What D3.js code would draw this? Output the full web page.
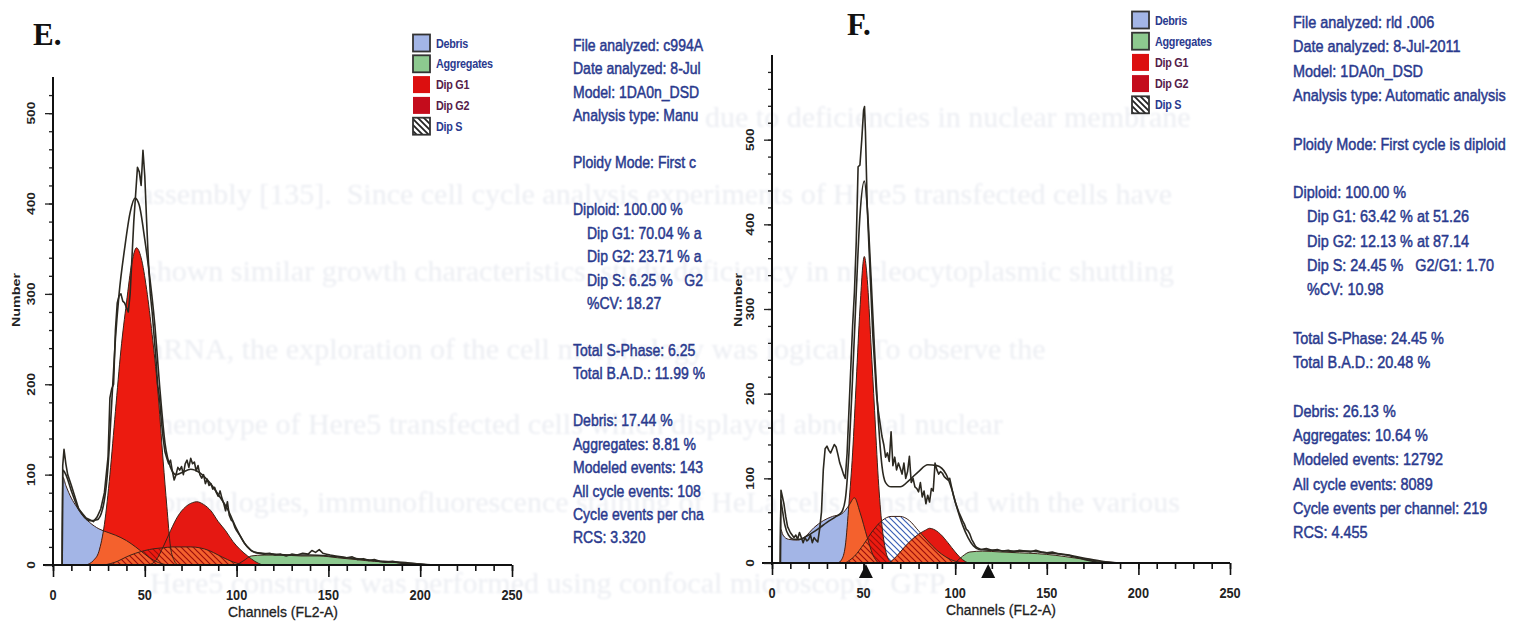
<!DOCTYPE html>
<html>
<head>
<meta charset="utf-8">
<script src="https://cdn.jsdelivr.net/npm/d3@7"></script>
<style>
  body { margin: 0; background: #fff; }
  svg { display: block; }
  text { white-space: pre; }
</style>
</head>
<body>
<svg id="chart" width="1519" height="621"></svg>
<script>
// ---------- data: [channel, count] ----------
const eDebris = [[5,0],[5.4,97],[7,88],[10,74],[13,64],[16,55],[20,47],[25,40],[30,36],[34,33],[40,27],[45,20],[50,12],[55,5],[60,1],[63,0]];
const eG1 = [[18,0],[22,5],[25,15],[28,45],[31,100],[34,170],[37,238],[40,290],[43,335],[45.5,351],[48,340],[51,305],[54,255],[57,195],[60,115],[62,65],[64,20],[66,5],[68,0]];
const eG2 = [[52,0],[56,5],[60,20],[64,38],[68,54],[72,64],[76,69],[78.3,70],[82,67],[86,60],[90,48],[94,38],[98,26],[102,17],[106,10],[110,4],[114,0]];
const eS = [[28,0],[35,4],[40,9],[45,13],[50,16],[55,18],[60,19],[65,20],[70,20],[75,20],[80,19],[85,16],[90,11],[95,6],[100,2],[105,0]];
const eAgg = [[100,0],[104,5],[108,10],[115,11],[125,11],[135,10],[145,10],[155,8],[165,6],[175,4],[185,3],[195,1],[205,0]];
const eModel = [[5,0],[5.3,105],[7,100],[10,82],[13,66],[16,56],[20,49],[24,50],[27,62],[30,110],[32,180],[34,250],[36,300],[39,350],[42,390],[44.7,406],[47,398],[50,360],[52,330],[55.5,265],[58,200],[61,135],[64,108],[67,100],[70,102],[75,106],[80,102],[85,92],[90,78],[95,62],[100,40],[105,22],[110,14],[120,12],[130,11],[140,11],[150,10],[160,8],[170,6],[180,4],[190,3],[200,1],[210,0],[250,0]];
const eRaw = [[4,0],[5,0],[5.3,110],[6,128],[7,112],[8,100],[10,88],[12,75],[14,62],[16,57],[18,52],[20,50],[22,48],[24,53],[26,62],[28,80],[30,120],[31,185],[32,195],[33,200],[34,260],[35,290],[36,298],[37,300],[38,292],[39,290],[40,285],[41,280],[42,300],[43,340],[44,380],[45,410],[46,440],[47,435],[48,420],[49,459],[50,430],[51,380],[52,335],[53,300],[54,280],[55,255],[56,230],[57,200],[58,185],[59,160],[60,140],[61,125],[62,118],[63,112],[64,116],[65,104],[66,94],[67,100],[68,108],[69,105],[70,109],[71,100],[72,112],[73,116],[74,108],[75,118],[76,112],[77,114],[78,104],[79,110],[80,100],[81,96],[82,100],[83,90],[84,95],[85,88],[86,90],[87,84],[88,86],[89,80],[90,76],[91,82],[92,74],[93,68],[94,60],[95,70],[96,55],[97,50],[98,48],[99,42],[100,38],[102,32],[104,25],[106,20],[108,16],[110,14],[112,13],[115,12],[118,13],[121,11],[124,12],[127,10],[130,12],[133,11],[136,13],[139,12],[141,16],[143,14],[145,17],[147,13],[149,12],[151,11],[154,10],[157,9],[160,8],[163,9],[166,6],[169,7],[172,5],[175,6],[178,4],[181,3],[185,4],[190,2],[195,2],[200,1],[205,0],[250,0]];

const fDebris = [[4.5,0],[4.7,40],[6,33],[9,28],[14,27],[18,31],[23,42],[28,50],[33,55],[38,58],[42,68],[45,77],[48,60],[52,30],[55,10],[58,0]];
const fG1 = [[36,0],[38,4],[40,20],[42,70],[44,130],[46,215],[48,300],[50.4,362],[52,335],[54,260],[56,180],[58,100],[60,45],[62,15],[64,3],[66,0]];
const fG2 = [[64,0],[68,8],[72,18],[76,27],[80,34],[84,39],[86,41],[88,40],[92,34],[96,24],[100,13],[104,4],[107,0]];
const fS = [[40,0],[45,8],[50,22],[55,38],[60,50],[65,55],[70,55],[75,50],[80,38],[85,26],[90,15],[95,7],[100,2],[105,0]];
const fAgg = [[100,0],[104,8],[108,13],[115,14],[125,13],[135,12],[145,11],[155,9],[165,6],[175,3],[185,1],[190,0]];
const fModel = [[4.5,0],[4.7,75],[5.5,65],[7,45],[9,33],[12,28],[15,28],[20,33],[25,40],[30,48],[35,55],[38,60],[40,75],[42,130],[44,220],[46,320],[48,410],[50.4,451],[52,420],[54,340],[56,250],[58,170],[60,115],[62,95],[65,90],[70,90],[75,98],[80,108],[85,116],[90,115],[95,105],[98,88],[101,65],[104,45],[107,30],[110,20],[113,16],[120,15],[130,14],[140,14],[150,12],[160,10],[170,6],[180,2],[190,0],[250,0]];
const fRaw = [[4,0],[4.6,0],[4.9,86],[5.5,80],[6.5,70],[7.5,55],[8.5,43],[10,36],[11,33],[12,30],[13,33],[14,28],[15,36],[16,30],[17,24],[18,30],[19,26],[20,28],[21,33],[22,24],[23,30],[24,27],[25,25],[26,40],[27,60],[28,110],[29,135],[30,138],[31,133],[32,130],[33,135],[34,140],[35,137],[36,128],[37,118],[38,112],[39,105],[40,100],[41,130],[42,180],[43,230],[44,280],[45,320],[46,380],[47,468],[48,470],[49,500],[50,535],[50.5,539],[51,510],[52,420],[53,370],[54,320],[55,270],[56,235],[57,200],[58,180],[59,165],[60,150],[61,140],[62,125],[63,130],[64,120],[65,155],[66,115],[67,125],[68,110],[69,118],[70,112],[71,105],[72,118],[73,100],[74,108],[75,126],[76,95],[77,100],[78,90],[79,88],[80,84],[81,95],[82,78],[83,85],[84,70],[85,80],[86,72],[87,88],[88,85],[89,118],[90,110],[91,105],[92,108],[93,106],[94,102],[95,100],[96,98],[97,100],[98,90],[99,80],[100,72],[101,66],[102,60],[103,55],[104,50],[105,46],[106,40],[107,38],[108,34],[109,28],[110,24],[111,20],[112,18],[114,16],[117,17],[120,15],[123,16],[126,14],[129,15],[132,13],[135,15],[138,14],[141,13],[144,15],[147,13],[150,12],[153,13],[156,11],[159,10],[162,9],[165,7],[168,6],[171,4],[175,2],[180,0],[250,0]];
const fMarkers = [51.26, 118];

const legendItems = ["Debris", "Aggregates", "Dip G1", "Dip G2", "Dip S"];
const xTickLabels = [0, 50, 100, 150, 200, 250];
const yTickLabels = [0, 100, 200, 300, 400, 500];

const eStats = ["File analyzed: c994A", "Date analyzed: 8-Jul", "Model: 1DA0n_DSD", "Analysis type: Manu", "",
  "Ploidy Mode: First c", "", "Diploid: 100.00 %", "  Dip G1: 70.04 % a", "  Dip G2: 23.71 % a",
  "  Dip S: 6.25 %   G2", "  %CV: 18.27", "", "Total S-Phase: 6.25", "Total B.A.D.: 11.99 %", "",
  "Debris: 17.44 %", "Aggregates: 8.81 %", "Modeled events: 143", "All cycle events: 108",
  "Cycle events per cha", "RCS: 3.320"];
const fStats = ["File analyzed: rld .006", "Date analyzed: 8-Jul-2011", "Model: 1DA0n_DSD", "Analysis type: Automatic analysis", "",
  "Ploidy Mode: First cycle is diploid", "", "Diploid: 100.00 %", "  Dip G1: 63.42 % at 51.26", "  Dip G2: 12.13 % at 87.14",
  "  Dip S: 24.45 %   G2/G1: 1.70", "  %CV: 10.98", "", "Total S-Phase: 24.45 %", "Total B.A.D.: 20.48 %", "",
  "Debris: 26.13 %", "Aggregates: 10.64 %", "Modeled events: 12792", "All cycle events: 8089",
  "Cycle events per channel: 219", "RCS: 4.455"];

// faint text showing through from the back of the page
const ghostLines = [
  [705, 127, "due to deficiencies in nuclear membrane"],
  [140, 204, "assembly [135].  Since cell cycle analysis experiments of Here5 transfected cells have"],
  [145, 281, "shown similar growth characteristics, study deficiency in nucleocytoplasmic shuttling"],
  [140, 359, "mRNA, the exploration of the cell morphology was logical.  To observe the"],
  [143, 434, "phenotype of Here5 transfected cells which displayed abnormal nuclear"],
  [137, 512, "morphologies, immunofluorescence staining of HeLa cells transfected with the various"],
  [150, 593, "Here5 constructs was performed using confocal microscopy.  GFP"]
];

const COL = {
  debris: "#a3b5e6", agg: "#8dc98f", red: "#ec1b10", g2: "#e51812",
  orange: "#f4612d", navy: "#2a3a8e", line: "#2b2820", edge: "#3c2218"
};

const svg = d3.select("#chart");
const defs = svg.append("defs");

function makeHatch(id, color, bg, w) {
  const p = defs.append("pattern").attr("id", id)
    .attr("patternUnits", "userSpaceOnUse").attr("width", 6).attr("height", 6);
  if (bg) p.append("rect").attr("width", 6).attr("height", 6).attr("fill", bg);
  p.append("path").attr("d", "M-3,3L3,9M0,0L6,6M3,-3L9,3")
    .attr("stroke", color).attr("stroke-width", w);
}
makeHatch("hatch-blue", "#3b5fb5", null, 1.2);
makeHatch("hatch-red", "#9c0c0a", null, 1.2);
makeHatch("hatch-legend", "#222", "#fff", 1.8);
defs.append("filter").attr("id", "soft")
  .append("feGaussianBlur").attr("stdDeviation", 0.9);

// ghost text
svg.append("g").attr("filter", "url(#soft)")
  .selectAll("text").data(ghostLines).join("text")
  .attr("x", d => d[0]).attr("y", d => d[1])
  .attr("font-family", "Liberation Serif, serif").attr("font-size", 30)
  .attr("fill", "#eceef3")
  .text(d => d[2]);

function histogram(cfg) {
  const g = svg.append("g").attr("class", "hist-" + cfg.id);
  const x = d3.scaleLinear().domain([0, 250]).range([cfg.left, cfg.right]);
  const y = d3.scaleLinear().domain([0, cfg.yMax]).range([cfg.base, cfg.top]);

  const area = d3.area().x(d => x(d[0])).y0(y(0)).y1(d => y(d[1])).curve(d3.curveMonotoneX);
  const smooth = d3.line().x(d => x(d[0])).y(d => y(d[1])).curve(d3.curveMonotoneX);
  const jagged = d3.line().x(d => x(d[0])).y(d => y(d[1]));

  // clip shapes for the red peaks
  defs.append("clipPath").attr("id", cfg.id + "-g1").append("path").attr("d", area(cfg.g1));
  defs.append("clipPath").attr("id", cfg.id + "-g2").append("path").attr("d", area(cfg.g2));
  const both = defs.append("clipPath").attr("id", cfg.id + "-red");
  both.append("path").attr("d", area(cfg.g1));
  both.append("path").attr("d", area(cfg.g2));

  g.append("path").attr("d", area(cfg.debris)).attr("fill", COL.debris);
  g.append("path").attr("d", area(cfg.agg)).attr("fill", COL.agg);
  g.append("path").attr("d", area(cfg.s)).attr("fill", "url(#hatch-blue)");
  g.append("path").attr("d", area(cfg.g1)).attr("fill", COL.red);
  g.append("path").attr("d", area(cfg.g2)).attr("fill", COL.g2);

  // overlaps inside the red peaks
  g.append("path").attr("d", area(cfg.debris)).attr("fill", COL.orange)
    .attr("clip-path", `url(#${cfg.id}-g1)`);
  g.append("path").attr("d", area(cfg.s)).attr("fill", COL.orange)
    .attr("clip-path", `url(#${cfg.id}-g2)`);
  g.append("path").attr("d", area(cfg.s)).attr("fill", "url(#hatch-red)")
    .attr("clip-path", `url(#${cfg.id}-red)`);

  // component outlines
  [cfg.debris, cfg.agg, cfg.s, cfg.g1, cfg.g2].forEach(comp => {
    g.append("path").attr("d", smooth(comp)).attr("fill", "none")
      .attr("stroke", COL.edge).attr("stroke-width", 1);
  });

  // model fit and raw histogram
  g.append("path").attr("d", smooth(cfg.model)).attr("fill", "none")
    .attr("stroke", COL.line).attr("stroke-width", 1.6);
  g.append("path").attr("d", jagged(cfg.raw)).attr("fill", "none")
    .attr("stroke", COL.line).attr("stroke-width", 1.6).attr("stroke-linejoin", "round");

  // x axis
  const xAx = g.append("g").attr("transform", `translate(0,${cfg.base})`);
  xAx.append("g").call(d3.axisBottom(x).tickValues(d3.range(0, 251, 10)).tickSize(6).tickFormat(""));
  xAx.append("g").call(d3.axisBottom(x).tickValues(xTickLabels).tickSize(12).tickFormat(""));
  xAx.selectAll(".domain").remove();
  xAx.selectAll(".tick line").attr("stroke", "#111").attr("stroke-width", 1.6);
  xAx.append("line").attr("x1", x(0) - 10).attr("x2", x(250))
    .attr("stroke", "#111").attr("stroke-width", 2.2);
  xAx.selectAll("text.lbl").data(xTickLabels).join("text").attr("class", "lbl")
    .attr("transform", d => `translate(${x(d)},35) scale(0.85,1)`)
    .attr("text-anchor", "middle").attr("font-family", "Liberation Sans, Arial, sans-serif")
    .attr("font-weight", "bold").attr("font-size", 15).attr("fill", "#222").text(d => d);
  xAx.append("text")
    .attr("transform", `translate(${cfg.xLabelX},52) scale(0.9,1)`)
    .attr("text-anchor", "middle").attr("font-family", "Liberation Sans, Arial, sans-serif")
    .attr("font-size", 15.5).attr("fill", "#222").attr("stroke", "#222").attr("stroke-width", 0.3)
    .text("Channels (FL2-A)");

  // y axis
  const yAx = g.append("g").attr("transform", `translate(${x(0)},0)`);
  yAx.append("g").call(d3.axisLeft(y).tickValues(d3.range(20, cfg.yMax, 20)).tickSize(4).tickFormat(""));
  yAx.append("g").call(d3.axisLeft(y).tickValues(yTickLabels).tickSize(8).tickFormat(""));
  yAx.selectAll(".domain").remove();
  yAx.selectAll(".tick line").attr("stroke", "#222").attr("stroke-width", 1.3);
  yAx.append("line").attr("y1", y(0) + 2).attr("y2", y(cfg.yMax))
    .attr("stroke", "#111").attr("stroke-width", 2);
  yAx.selectAll("text.lbl").data(yTickLabels).join("text").attr("class", "lbl")
    .attr("transform", d => `translate(-18,${y(d)}) rotate(-90) scale(1.3,1)`)
    .attr("text-anchor", "middle").attr("font-family", "Liberation Sans, Arial, sans-serif")
    .attr("font-weight", "bold").attr("font-size", 10.5).attr("fill", "#222").text(d => d);
  yAx.append("text")
    .attr("transform", `translate(${cfg.yLabelDx},300) rotate(-90) scale(1.3,1)`)
    .attr("text-anchor", "middle").attr("font-family", "Liberation Sans, Arial, sans-serif")
    .attr("font-weight", "bold").attr("font-size", 11).attr("fill", "#222").text("Number");

  // peak markers
  g.selectAll("path.marker").data(cfg.markers).join("path").attr("class", "marker")
    .attr("d", d => `M${x(d)},${cfg.base + 1}L${x(d) - 7},${cfg.base + 15}L${x(d) + 7},${cfg.base + 15}Z`)
    .attr("fill", "#111");

  // legend
  const leg = g.append("g");
  const fills = [COL.debris, COL.agg, "#dc0f0f", "#c40c1c", "url(#hatch-legend)"];
  const txtCol = [COL.navy, COL.navy, "#55204a", "#55204a", COL.navy];
  legendItems.forEach((name, i) => {
    const cy = cfg.legY + i * cfg.legStep;
    const boxed = i === 0 || i === 1 || i === 4;
    leg.append("rect").attr("x", cfg.legX).attr("y", cy - 8.5).attr("width", 17).attr("height", 17)
      .attr("fill", fills[i]).attr("stroke", boxed ? "#333" : "none").attr("stroke-width", 1.8);
    leg.append("text").attr("transform", `translate(${cfg.legX + 23},${cy + 4.5}) scale(0.9,1)`)
      .attr("font-family", "Liberation Sans, Arial, sans-serif").attr("font-weight", "bold")
      .attr("font-size", 12).attr("fill", txtCol[i]).attr("letter-spacing", -0.3).text(name);
  });

  // statistics panel
  const panel = g.append("g");
  if (cfg.clipRight) {
    defs.append("clipPath").attr("id", cfg.id + "-panel").append("rect")
      .attr("x", cfg.textX - 5).attr("y", 0).attr("width", cfg.clipRight - cfg.textX + 5).attr("height", 621);
    panel.attr("clip-path", `url(#${cfg.id}-panel)`);
  }
  cfg.stats.forEach((s, i) => {
    if (!s) return;
    const indent = s.startsWith("  ") ? 14 : 0;
    panel.append("text")
      .attr("transform", `translate(${cfg.textX + indent},${cfg.textY + i * cfg.textStep}) scale(0.85,1)`)
      .attr("font-family", "Liberation Sans, Arial, sans-serif").attr("font-size", cfg.textSize)
      .attr("fill", COL.navy).attr("stroke", COL.navy).attr("stroke-width", 0.5)
      .text(s.trim());
  });

  // panel letter
  g.append("text").attr("x", cfg.letterX).attr("y", cfg.letterY)
    .attr("font-family", "Liberation Serif, serif").attr("font-weight", "bold")
    .attr("font-size", 31).attr("fill", "#111").text(cfg.letter);
}

histogram({
  id: "e", letter: "E.", letterX: 33, letterY: 45,
  left: 53, right: 512, base: 565, top: 77, yMax: 540,
  debris: eDebris, g1: eG1, g2: eG2, s: eS, agg: eAgg, model: eModel, raw: eRaw, markers: [],
  xLabelX: 283, yLabelDx: -33,
  legX: 413, legY: 43, legStep: 20.8,
  stats: eStats, textX: 573, textY: 51, textStep: 23.45, textSize: 16.5, clipRight: 705
});

histogram({
  id: "f", letter: "F.", letterX: 847, letterY: 35,
  left: 772, right: 1230, base: 563, top: 55, yMax: 600,
  debris: fDebris, g1: fG1, g2: fG2, s: fS, agg: fAgg, model: fModel, raw: fRaw, markers: fMarkers,
  xLabelX: 1001, yLabelDx: -30,
  legX: 1132, legY: 20, legStep: 21.2,
  stats: fStats, textX: 1293, textY: 28, textStep: 24.3, textSize: 17, clipRight: null
});
</script>
</body>
</html>
